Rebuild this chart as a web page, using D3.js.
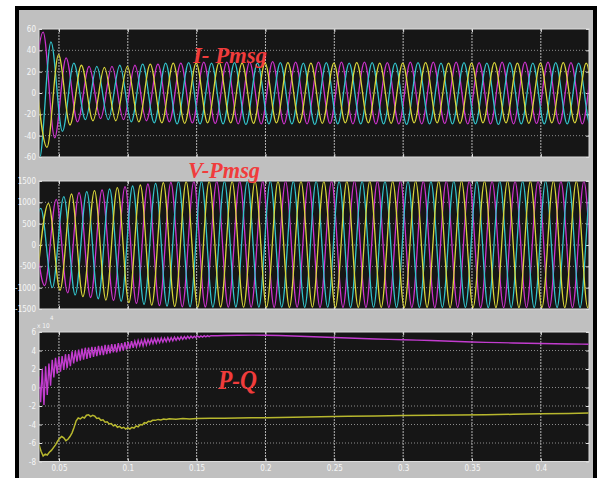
<!DOCTYPE html>
<html lang="en">
<head>
<meta charset="utf-8">
<title>PMSG scope</title>
<script src="https://cdnjs.cloudflare.com/ajax/libs/d3/7.8.5/d3.min.js"></script>
<style>
  body { margin: 0; background: #fff; }
</style>
</head>
<body>
<script>
var w = 597, h = 478;

// time axis (s)
var xTicks = [0.05, 0.1, 0.15, 0.2, 0.25, 0.3, 0.35, 0.4];
var xTickLabels = ["0.05", "0.1", "0.15", "0.2", "0.25", "0.3", "0.35", "0.4"];
var iTicks = [60, 40, 20, 0, -20, -40, -60];
var vTicks = [1500, 1000, 500, 0, -500, -1000, -1500];
var pqTicks = [6, 4, 2, 0, -2, -4, -6, -8];

// times of successive peaks/troughs (half cycles of the 60 Hz waves)
var tHalf = [0.0280, 0.0363, 0.0447, 0.0530, 0.0613, 0.0697, 0.0780, 0.0863, 0.0947, 0.1030,
  0.1113, 0.1197, 0.1280, 0.1363, 0.1447, 0.1530, 0.1613, 0.1697, 0.1780, 0.1863,
  0.1947, 0.2030, 0.2113, 0.2197, 0.2280, 0.2363, 0.2447, 0.2530, 0.2613, 0.2697,
  0.2780, 0.2863, 0.2947, 0.3030, 0.3113, 0.3197, 0.3280, 0.3363, 0.3447, 0.3530,
  0.3613, 0.3697, 0.3780, 0.3863, 0.3947, 0.4030, 0.4113, 0.4197, 0.4280, 0.4363,
  0.4447];

// I-Pmsg: peak / trough values per phase, and each phase's time shift
var iShift = { magenta: 0.0022, cyan: -0.0005, yellow: 0.0050 };
var iMagenta = [-25, 57, -42, 33, -27, 25, -24, 25, -25, 26,
  -26, 27, -27, 28, -28, 29, -28.5, 29, -29, 29,
  -29, 29.5, -29, 29, -29, 29, -28.5, 29, -29, 29,
  -29, 28.5, -29, 29, -29, 29, -28.5, 29, -29, 28.5,
  -29, 29, -29, 29, -28.5, 29, -29, 28.5, -29, 29,
  -29];
var iCyan = [30, -62, 48, -36, 28, -25, 25, -25, 26, -27,
  27, -28, 28, -29, 28.5, -29, 28, -29, 28.5, -29.5,
  28, -29, 28.5, -29, 28, -29.5, 28.5, -29, 28, -29,
  28.5, -29, 28, -29.5, 28.5, -29, 28, -29, 28.5, -29,
  28, -29.5, 28.5, -29, 28, -29, 28.5, -29, 28, -29,
  28.5];
var iYellow = [20, -51, 36, -30, 26, -26, 24, -26, 25, -27,
  27, -28, 28, -28.5, 28, -28, 28.5, -28, 28, -28.5,
  28, -28, 28.5, -28, 28, -28.5, 28, -28, 28.5, -28,
  28, -28.5, 28, -28, 28.5, -28, 28, -28.5, 28, -28,
  28.5, -28, 28, -28.5, 28, -28, 28.5, -28, 28, -28.5,
  28];

// V-Pmsg
var vShift = { magenta: 0.0033, cyan: 0.0005, yellow: 0.0061 };
var vMagenta = [780, -950, 1071, -1120, 1226, -1230, 1289, -1300, 1367, -1370,
  1430, -1420, 1469, -1450, 1490, -1452, 1492, -1455, 1494, -1458,
  1490, -1460, 1495, -1456, 1492, -1462, 1494, -1460, 1496, -1463,
  1493, -1465, 1495, -1462, 1494, -1467, 1496, -1465, 1493, -1468,
  1495, -1470, 1494, -1466, 1496, -1470, 1493, -1468, 1495, -1470,
  1494];
var vCyan = [-780, 860, -1000, 1133, -1170, 1250, -1260, 1312, -1320, 1383,
  -1390, 1445, -1430, 1484, -1450, 1490, -1455, 1492, -1452, 1490,
  -1458, 1495, -1455, 1492, -1460, 1495, -1455, 1490, -1460, 1496,
  -1458, 1492, -1462, 1495, -1460, 1493, -1465, 1496, -1462, 1494,
  -1468, 1496, -1465, 1492, -1470, 1495, -1466, 1493, -1468, 1494,
  -1466];
var vYellow = [-820, 977, -1060, 1195, -1210, 1273, -1290, 1343, -1350, 1406,
  -1410, 1461, -1440, 1484, -1455, 1490, -1452, 1492, -1458, 1494,
  -1455, 1490, -1460, 1495, -1458, 1492, -1462, 1494, -1460, 1496,
  -1462, 1493, -1465, 1495, -1462, 1494, -1468, 1496, -1465, 1493,
  -1468, 1495, -1470, 1494, -1466, 1496, -1470, 1493, -1468, 1495,
  -1470];

// P (x 1e4), with its ripple
var pT = [0.0355, 0.0367, 0.0379, 0.0391, 0.0403, 0.0415, 0.0427, 0.0439, 0.0451, 0.0463,
  0.0475, 0.0487, 0.0499, 0.0511, 0.0523, 0.0535, 0.0547, 0.0559, 0.0571, 0.0583,
  0.0595, 0.0607, 0.0619, 0.0631, 0.0643, 0.0655, 0.0667, 0.0679, 0.0691, 0.0703,
  0.0715, 0.0727, 0.0739, 0.0751, 0.0763, 0.0775, 0.0787, 0.0799, 0.0811, 0.0823,
  0.0835, 0.0847, 0.0859, 0.0871, 0.0883, 0.0895, 0.0907, 0.0919, 0.0931, 0.0943,
  0.0955, 0.0967, 0.0979, 0.0991, 0.1003, 0.1015, 0.1027, 0.1039, 0.1051, 0.1063,
  0.1075, 0.1087, 0.1099, 0.1111, 0.1123, 0.1135, 0.1147, 0.1159, 0.1171, 0.1183,
  0.1195, 0.1207, 0.1219, 0.1231, 0.1243, 0.1255, 0.1267, 0.1279, 0.1291, 0.1303,
  0.1315, 0.1327, 0.1339, 0.1351, 0.1363, 0.1375, 0.1387, 0.1399, 0.1411, 0.1423,
  0.1435, 0.1447, 0.1459, 0.1471, 0.1483, 0.1495, 0.1507, 0.1519, 0.1531, 0.1543,
  0.1555, 0.1567, 0.1579, 0.1591, 0.1603,
  0.165, 0.17, 0.18, 0.19, 0.2, 0.21, 0.22, 0.23, 0.24, 0.25,
  0.26, 0.27, 0.28, 0.29, 0.3, 0.31, 0.32, 0.33, 0.34, 0.35,
  0.36, 0.37, 0.38, 0.39, 0.4, 0.41, 0.42, 0.43, 0.44];
var pV = [1.2, -1.6, 2.0, -1.9, 2.3, -0.8, 2.6, 0.2, 3.0, 1.1,
  3.2, 1.5, 3.3, 1.7, 3.4, 1.9, 3.6, 2.1, 3.6, 2.3,
  3.9, 2.6, 4.0, 2.8, 4.1, 2.9, 4.2, 3.0, 4.3, 3.1,
  4.3, 3.2, 4.4, 3.3, 4.4, 3.4, 4.5, 3.5, 4.5, 3.5,
  4.6, 3.6, 4.6, 3.7, 4.7, 3.8, 4.7, 3.8, 4.8, 3.9,
  4.8, 4.0, 4.9, 4.1, 4.9, 4.2, 5.0, 4.3, 5.0, 4.4,
  5.1, 4.5, 5.1, 4.5, 5.2, 4.6, 5.2, 4.7, 5.25, 4.75,
  5.3, 4.8, 5.3, 4.85, 5.35, 4.9, 5.35, 4.95, 5.4, 5.0,
  5.4, 5.05, 5.45, 5.1, 5.45, 5.15, 5.5, 5.2, 5.5, 5.25,
  5.55, 5.3, 5.55, 5.35, 5.55, 5.38, 5.58, 5.42, 5.58, 5.45,
  5.6, 5.47, 5.6, 5.5, 5.6,
  5.6, 5.62, 5.65, 5.66, 5.65, 5.62, 5.57, 5.52, 5.46, 5.4,
  5.35, 5.3, 5.24, 5.2, 5.16, 5.12, 5.08, 5.03, 4.97, 4.92,
  4.88, 4.85, 4.81, 4.78, 4.75, 4.73, 4.71, 4.69, 4.67];

// Q (x 1e4)
var qT = [0.0355, 0.0370, 0.0385, 0.0400, 0.0415, 0.0430, 0.0445, 0.0460, 0.0475, 0.0490,
  0.0505, 0.0520, 0.0535, 0.0550, 0.0565, 0.0580, 0.0595, 0.0610, 0.0625, 0.0640,
  0.0655, 0.0670, 0.0685, 0.0700, 0.0715, 0.0730, 0.0745, 0.0760, 0.0775, 0.0790,
  0.0805, 0.0820, 0.0835, 0.0850, 0.0865, 0.0880, 0.0895, 0.0910, 0.0925, 0.0940,
  0.0955, 0.0970, 0.0985, 0.1000, 0.1015, 0.1030, 0.1045, 0.1060, 0.1075, 0.1090,
  0.1105, 0.1120, 0.1135, 0.1150, 0.1165, 0.1180, 0.1200, 0.1220, 0.1240, 0.1260,
  0.1280, 0.1300, 0.1350, 0.1400, 0.1450, 0.1500, 0.1600, 0.1700, 0.1800, 0.1900,
  0.2000, 0.2200, 0.2400, 0.2600, 0.2800, 0.3000, 0.3200, 0.3400, 0.3600, 0.3800,
  0.4000, 0.4200, 0.4400];
var qV = [-6.2, -6.9, -7.4, -7.2, -7.3, -7.0, -6.8, -6.5, -6.2, -5.8,
  -5.5, -5.3, -5.45, -5.75, -5.6, -5.3, -4.9, -4.3, -3.6, -3.3,
  -3.4, -3.2, -3.3, -3.0, -2.95, -3.15, -3.0, -3.1, -3.35, -3.3,
  -3.55, -3.5, -3.75, -3.7, -3.95, -3.9, -4.15, -4.05, -4.3, -4.2,
  -4.4, -4.3, -4.5, -4.35, -4.5, -4.3, -4.4, -4.15, -4.25, -4.0,
  -4.05, -3.8, -3.85, -3.65, -3.7, -3.55, -3.55, -3.45, -3.5, -3.4,
  -3.45, -3.38, -3.42, -3.36, -3.4, -3.35, -3.33, -3.32, -3.3, -3.28,
  -3.27, -3.22, -3.15, -3.1, -3.07, -3.04, -3.0, -2.98, -2.94, -2.9,
  -2.85, -2.8, -2.76];

var colMagenta = "#cc33cc", colCyan = "#33c4cc", colYellow = "#d9d63a";
var colP = "#c23ccf", colQ = "#b8b82e";

var svg = d3.select("body").append("svg")
  .attr("width", w)
  .attr("height", h);

// outer scope window
svg.append("rect").attr("x", 17).attr("y", 8).attr("width", 578).attr("height", 490)
  .attr("fill", "#c0c0c0").attr("stroke", "#000").attr("stroke-width", 4);

var x = d3.scaleLinear().domain([0.0355, 0.435]).range([39, 589]);

var panels = [
  { id: "pi", top: 29, bottom: 157, domain: [-60, 60], ticks: iTicks },
  { id: "pv", top: 181, bottom: 309, domain: [-1500, 1500], ticks: vTicks },
  { id: "pq", top: 332, bottom: 461.5, domain: [-8, 6], ticks: pqTicks }
];

var labelFont = "'Liberation Sans Narrow','DejaVu Sans Condensed','Liberation Sans',sans-serif";

panels.forEach(function(p) {
  p.y = d3.scaleLinear().domain(p.domain).range([p.bottom, p.top]);
  var g = svg.append("g");

  g.append("rect").attr("x", 39).attr("y", p.top)
    .attr("width", 550).attr("height", p.bottom - p.top)
    .attr("fill", "#161616");

  // grid
  g.selectAll(".hg").data(p.ticks.slice(1, -1)).enter().append("line")
    .attr("x1", 39).attr("x2", 589)
    .attr("y1", function(d) { return p.y(d); })
    .attr("y2", function(d) { return p.y(d); })
    .attr("stroke", "#8c8c8c").attr("stroke-width", 1)
    .attr("stroke-dasharray", "1,2");
  g.selectAll(".vg").data(xTicks).enter().append("line")
    .attr("x1", function(d) { return x(d); })
    .attr("x2", function(d) { return x(d); })
    .attr("y1", p.top).attr("y2", p.bottom)
    .attr("stroke", "#b4b4b4").attr("stroke-width", 1)
    .attr("stroke-dasharray", "2,1");

  // ticks on the box edges
  var yAxL = d3.axisRight(p.y).tickValues(p.ticks).tickSize(3).tickFormat("");
  var yAxR = d3.axisLeft(p.y).tickValues(p.ticks).tickSize(3).tickFormat("");
  g.append("g").attr("transform", "translate(39,0)").call(yAxL);
  g.append("g").attr("transform", "translate(589,0)").call(yAxR);
  var xAxT = d3.axisBottom(x).tickValues(xTicks).tickSize(3).tickFormat("");
  var xAxB = d3.axisTop(x).tickValues(xTicks).tickSize(3).tickFormat("");
  g.append("g").attr("transform", "translate(0," + p.top + ")").call(xAxT);
  g.append("g").attr("transform", "translate(0," + p.bottom + ")").call(xAxB);
  g.selectAll(".domain").remove();
  g.selectAll(".tick line").attr("stroke", "#e0e0e0");

  // y labels
  var yLab = d3.axisLeft(p.y).tickValues(p.ticks).tickSize(0).tickPadding(3)
    .tickFormat(function(d) { return String(d); });
  var yl = g.append("g").attr("transform", "translate(39,0)").call(yLab);
  yl.select(".domain").remove();
  yl.selectAll("text").attr("fill", "#f6f6f6")
    .style("font-family", labelFont).style("font-size", "8px");

  g.append("rect").attr("x", 39).attr("y", p.top)
    .attr("width", 550).attr("height", p.bottom - p.top)
    .attr("fill", "none").attr("stroke", "#dcdcdc").attr("stroke-width", 1);

  svg.append("clipPath").attr("id", "clip-" + p.id).append("rect")
    .attr("x", 39.5).attr("y", p.top + 0.5)
    .attr("width", 549).attr("height", p.bottom - p.top - 1);
  p.plot = svg.append("g").attr("clip-path", "url(#clip-" + p.id + ")");
});

// bottom time labels
var xLab = d3.axisBottom(x).tickValues(xTicks).tickSize(0).tickPadding(4)
  .tickFormat(function(d, i) { return xTickLabels[i]; });
var xl = svg.append("g").attr("transform", "translate(0,461.5)").call(xLab);
xl.select(".domain").remove();
xl.selectAll("text").attr("fill", "#f6f6f6")
  .style("font-family", labelFont).style("font-size", "8px");

// x 10^4 exponent
svg.append("text").attr("x", 37).attr("y", 328).text("x 10")
  .attr("fill", "#f6f6f6").style("font-family", labelFont).style("font-size", "6.5px");
svg.append("text").attr("x", 50).attr("y", 320).text("4")
  .attr("fill", "#f6f6f6").style("font-family", labelFont).style("font-size", "6px");

function wave(vals, shift) {
  return vals.map(function(v, i) { return [tHalf[i] + shift, v]; });
}

function drawWaves(p, list) {
  var line = d3.line()
    .x(function(d) { return x(d[0]); })
    .y(function(d) { return p.y(d[1]); })
    .curve(d3.curveMonotoneX);
  p.plot.selectAll(".w").data(list).enter().append("path")
    .attr("d", function(s) { return line(s.pts); })
    .attr("fill", "none")
    .attr("stroke", function(s) { return s.color; })
    .attr("stroke-width", 1.3);
}

drawWaves(panels[0], [
  { pts: wave(iMagenta, iShift.magenta), color: colMagenta },
  { pts: wave(iCyan, iShift.cyan), color: colCyan },
  { pts: wave(iYellow, iShift.yellow), color: colYellow }
]);
drawWaves(panels[1], [
  { pts: wave(vMagenta, vShift.magenta), color: colMagenta },
  { pts: wave(vCyan, vShift.cyan), color: colCyan },
  { pts: wave(vYellow, vShift.yellow), color: colYellow }
]);

var pq = panels[2];
var pqLine = d3.line()
  .x(function(d) { return x(d[0]); })
  .y(function(d) { return pq.y(d[1]); });
pq.plot.append("path")
  .attr("d", pqLine(pT.map(function(t, i) { return [t, pV[i]]; })))
  .attr("fill", "none").attr("stroke", colP).attr("stroke-width", 1.4);
pq.plot.append("path")
  .attr("d", pqLine(qT.map(function(t, i) { return [t, qV[i]]; })))
  .attr("fill", "none").attr("stroke", colQ).attr("stroke-width", 1.5);

// titles
var titleFont = "'Liberation Serif','Times New Roman',serif";
[["I- Pmsg", 193, 63, 74], ["V-Pmsg", 188, 178, 72], ["P-Q", 218, 389, 39]].forEach(function(t) {
  svg.append("text").attr("x", t[1]).attr("y", t[2]).text(t[0])
    .attr("textLength", t[3]).attr("lengthAdjust", "spacingAndGlyphs")
    .attr("fill", "#f03c3c")
    .style("font-family", titleFont).style("font-style", "italic")
    .style("font-weight", "bold").style("font-size", t[0] === "P-Q" ? "27px" : "24px");
});
</script>
</body>
</html>
